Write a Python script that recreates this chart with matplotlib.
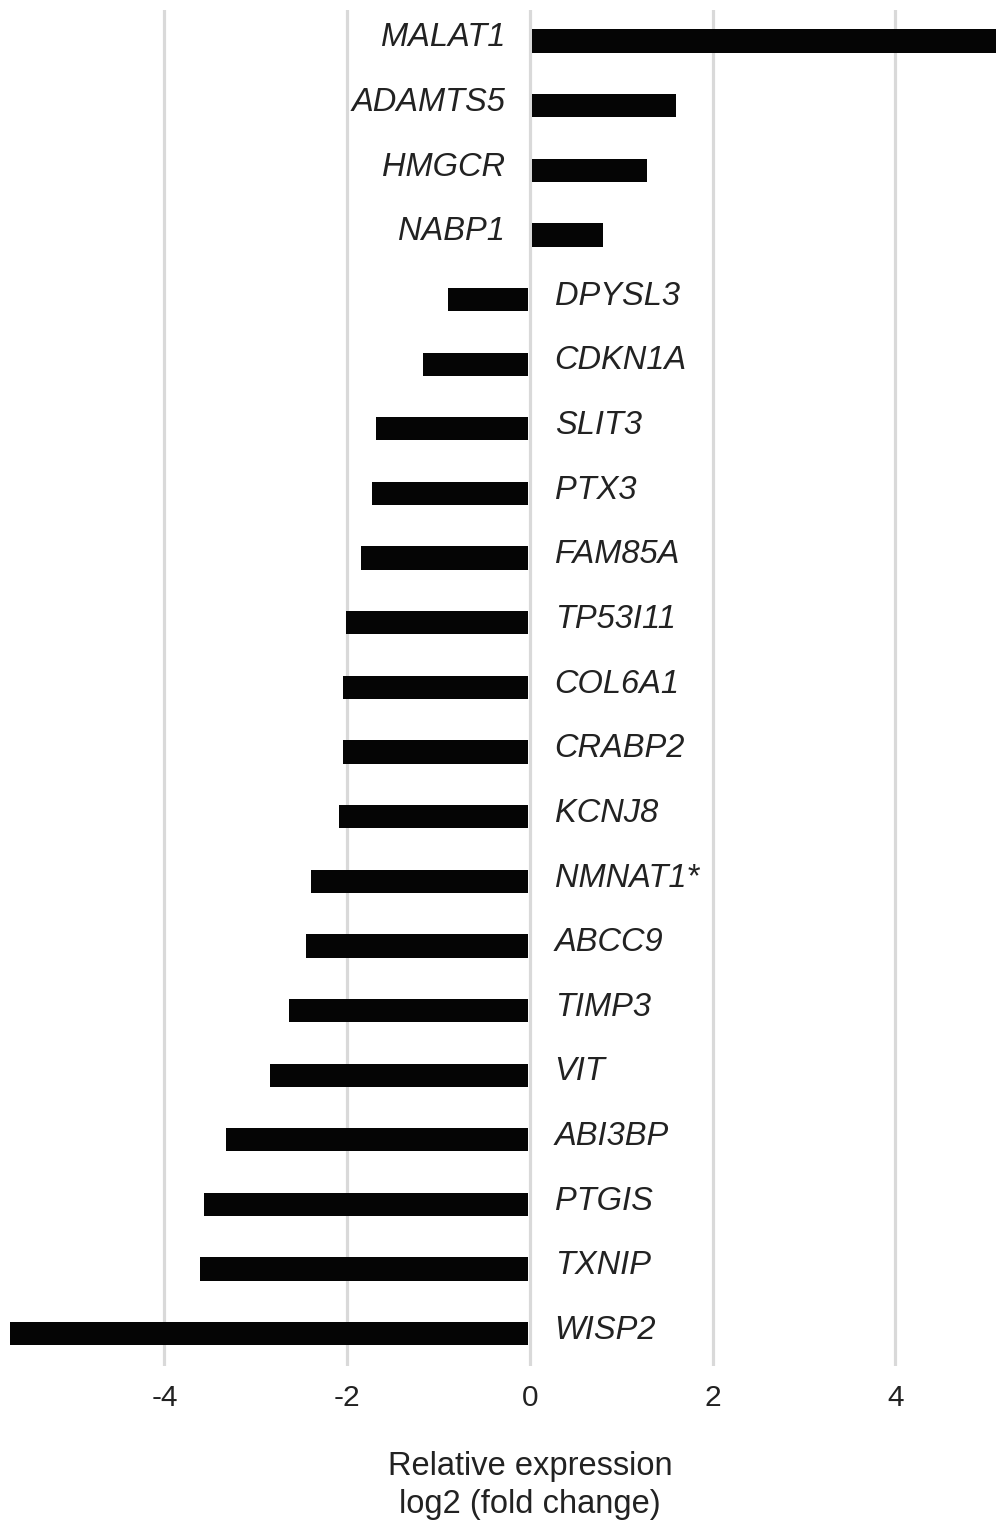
import matplotlib
matplotlib.use("Agg")
import matplotlib.pyplot as plt

genes = ["MALAT1", "ADAMTS5", "HMGCR", "NABP1", "DPYSL3", "CDKN1A", "SLIT3",
         "PTX3", "FAM85A", "TP53I11", "COL6A1", "CRABP2", "KCNJ8", "NMNAT1*",
         "ABCC9", "TIMP3", "VIT", "ABI3BP", "PTGIS", "TXNIP", "WISP2"]
log2_fc = [5.20, 1.60, 1.28, 0.80, -0.90, -1.17, -1.69, -1.73, -1.85, -2.01,
           -2.05, -2.05, -2.09, -2.40, -2.45, -2.64, -2.85, -3.33, -3.57,
           -3.61, -5.69]
xticks = [-4, -2, 0, 2, 4]

plt.rcParams["font.family"] = ["Liberation Sans", "DejaVu Sans"]

fig = plt.figure(figsize=(9.96, 15.21), dpi=100)
ax = fig.add_axes([0.0, 1 - 1366 / 1521, 1.0, (1366 - 10) / 1521])

ypos = list(range(len(genes)))
gap = 0.025
lefts = [gap if v > 0 else v for v in log2_fc]
widths = [v - gap if v > 0 else -v - gap for v in log2_fc]
ax.barh(ypos, widths, left=lefts, height=0.36, color="#050505", zorder=3)

# gene names sit on the opposite side of zero from their bar
for y, g, v in zip(ypos, genes, log2_fc):
    if v > 0:
        ax.text(-0.27, y - 0.05, g, ha="right", va="center", style="italic",
                fontsize=23.5, color="#222222")
    else:
        ax.text(0.27, y - 0.05, g, ha="left", va="center", style="italic",
                fontsize=23.5, color="#222222")

ax.set_xlim(-5.80, 5.10)
ax.set_ylim(len(genes) - 0.5, -0.48)
ax.set_xticks(xticks)
ax.set_xticklabels([str(t) for t in xticks], fontsize=21.5, color="#222222")
ax.set_yticks([])
ax.tick_params(axis="x", length=0, pad=13)
ax.grid(axis="x", color="#d9d9d9", linewidth=2.3, zorder=0)
for s in ax.spines.values():
    s.set_visible(False)

ax.set_xlabel("Relative expression\nlog2 (fold change)", fontsize=23.5,
              color="#222222", linespacing=1.3)
ax.xaxis.set_label_coords(530 / 996, -(1451 - 1366) / 1356)

fig.savefig("out.png", dpi=100)
